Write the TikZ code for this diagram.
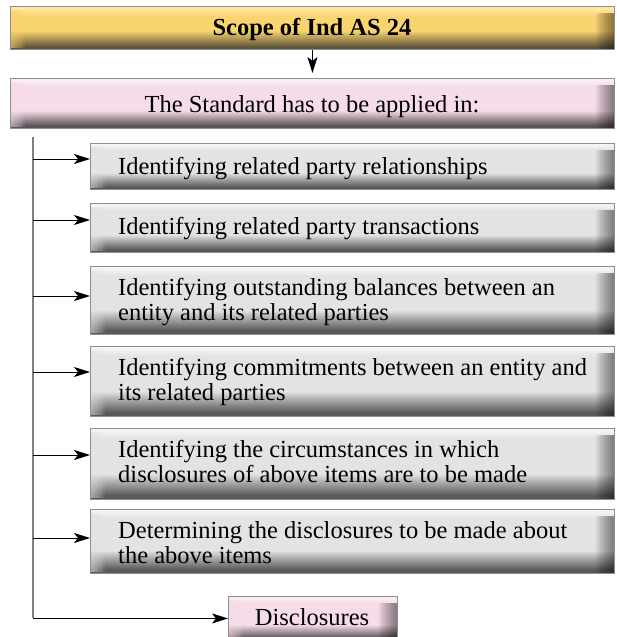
\documentclass[tikz,border=0pt]{standalone}
\usepackage{fontspec}
\setmainfont{Liberation Serif}
\usetikzlibrary{arrows.meta}
\definecolor{golddk}{HTML}{5E5439}
\definecolor{goldmd}{HTML}{B99D58}
\definecolor{goldbd}{HTML}{FAD470}
\definecolor{goldtp}{HTML}{FEE8A4}
\definecolor{pinkdk}{HTML}{5C5357}
\definecolor{pinkmd}{HTML}{B8A4AE}
\definecolor{pinkbd}{HTML}{F6DCE9}
\definecolor{pinktp}{HTML}{FBEEF5}
\definecolor{graydk}{HTML}{5A5959}
\definecolor{graymd}{HTML}{ABA9A8}
\definecolor{graybd}{HTML}{E5E3E2}
\definecolor{graytp}{HTML}{F3F3F2}
\definecolor{boxline}{HTML}{8E8E8E}
\definecolor{trunkcol}{HTML}{808080}
\pgfdeclareverticalshading{goldsh}{100bp}{color(0bp)=(golddk); color(28bp)=(golddk); color(39bp)=(goldmd); color(47bp)=(goldbd); color(64bp)=(goldbd); color(73bp)=(goldtp); color(100bp)=(goldtp)}
\pgfdeclareverticalshading{pinksh}{100bp}{color(0bp)=(pinkdk); color(28bp)=(pinkdk); color(37bp)=(pinkmd); color(43bp)=(pinkbd); color(68bp)=(pinkbd); color(73bp)=(pinktp); color(100bp)=(pinktp)}
\pgfdeclareverticalshading{graysh}{100bp}{color(0bp)=(graydk); color(28bp)=(graydk); color(37bp)=(graymd); color(43bp)=(graybd); color(68bp)=(graybd); color(73bp)=(graytp); color(100bp)=(graytp)}
\begin{document}
\begin{tikzpicture}[x=1pt,y=-1pt,
  box/.style={draw=boxline, line width=0.9pt, inner sep=0pt, anchor=north west, shade,
    path picture={
      \foreach \i in {1,...,9}{
        \fill[black, fill opacity=0.06]
          ([xshift=-2*\i pt,yshift=-7pt]path picture bounding box.north east) rectangle (path picture bounding box.south east);
        \fill[#1, fill opacity=0.09]
          ([yshift=-4pt]path picture bounding box.north west) rectangle ([xshift=1.6*\i pt,yshift=1pt]path picture bounding box.south west);
      }
    }},
  goldbox/.style={box=goldbd, shading=goldsh},
  pinkbox/.style={box=pinkbd, shading=pinksh},
  graybox/.style={box=graybd, shading=graysh},
  txt/.style={font=\fontsize{24.5}{25}\selectfont, align=left, anchor=base west, inner sep=0pt},
  ctxt/.style={font=\fontsize{24.5}{25}\selectfont, anchor=base, inner sep=0pt},
  arr/.style={draw=black, line width=0.8pt, -{Stealth[length=16pt,width=10pt,inset=4pt]}},
  trunkline/.style={draw=trunkcol, line width=1.3pt}
]
\useasboundingbox (0,0) rectangle (616,637);
% boxes
\node[goldbox, minimum width=604pt, minimum height=43pt] (title) at (10,6) {};
\node[pinkbox, minimum width=604pt, minimum height=50pt] (std) at (10,78) {};
\node[graybox, minimum width=524pt, minimum height=46pt] (b1) at (90,143) {};
\node[graybox, minimum width=524pt, minimum height=49pt] (b2) at (90,203) {};
\node[graybox, minimum width=524pt, minimum height=68pt] (b3) at (90,266) {};
\node[graybox, minimum width=524pt, minimum height=70pt] (b4) at (90,346) {};
\node[graybox, minimum width=524pt, minimum height=71pt] (b5) at (90,428) {};
\node[graybox, minimum width=524pt, minimum height=64pt] (b6) at (90,509) {};
\node[pinkbox, minimum width=169pt, minimum height=44pt] (disc) at (228,596) {};
% texts
\node[ctxt, font=\fontsize{24.5}{25}\selectfont\bfseries] (titletxt) at (312,35) {Scope of Ind AS 24};
\node[ctxt] (stdtxt) at (312,112) {The Standard has to be applied in:};
\node[txt] (t1) at (118,174) {Identifying related party relationships};
\node[txt] (t2) at (118,234) {Identifying related party transactions};
\node[txt] (t3) at (118,320) {Identifying outstanding balances between an\\entity and its related parties};
\node[txt] (t4) at (118,400) {Identifying commitments between an entity and\\its related parties};
\node[txt] (t5) at (118,482) {Identifying the circumstances in which\\disclosures of above items are to be made};
\node[txt] (t6) at (118,563) {Determining the disclosures to be made about\\the above items};
\node[ctxt] (disctxt) at (312,625) {Disclosures};
% connectors
\draw[arr, shorten >=5pt] (title.south) -- (std.north);
\coordinate (trunktop) at (33,137);
\coordinate (e1) at (90,159);
\coordinate (e2) at (90,220);
\coordinate (e3) at (90,296);
\coordinate (e4) at (90,372);
\coordinate (e5) at (90,455);
\coordinate (e6) at (90,538);
\draw[trunkline] (trunktop) -- (trunktop |- disc.west);
\foreach \e in {e1,e2,e3,e4,e5,e6}{
  \draw[arr] (trunktop |- \e) -- (\e);
}
\draw[arr] (trunktop |- disc.west) -- (disc.west);
\end{tikzpicture}
\end{document}
